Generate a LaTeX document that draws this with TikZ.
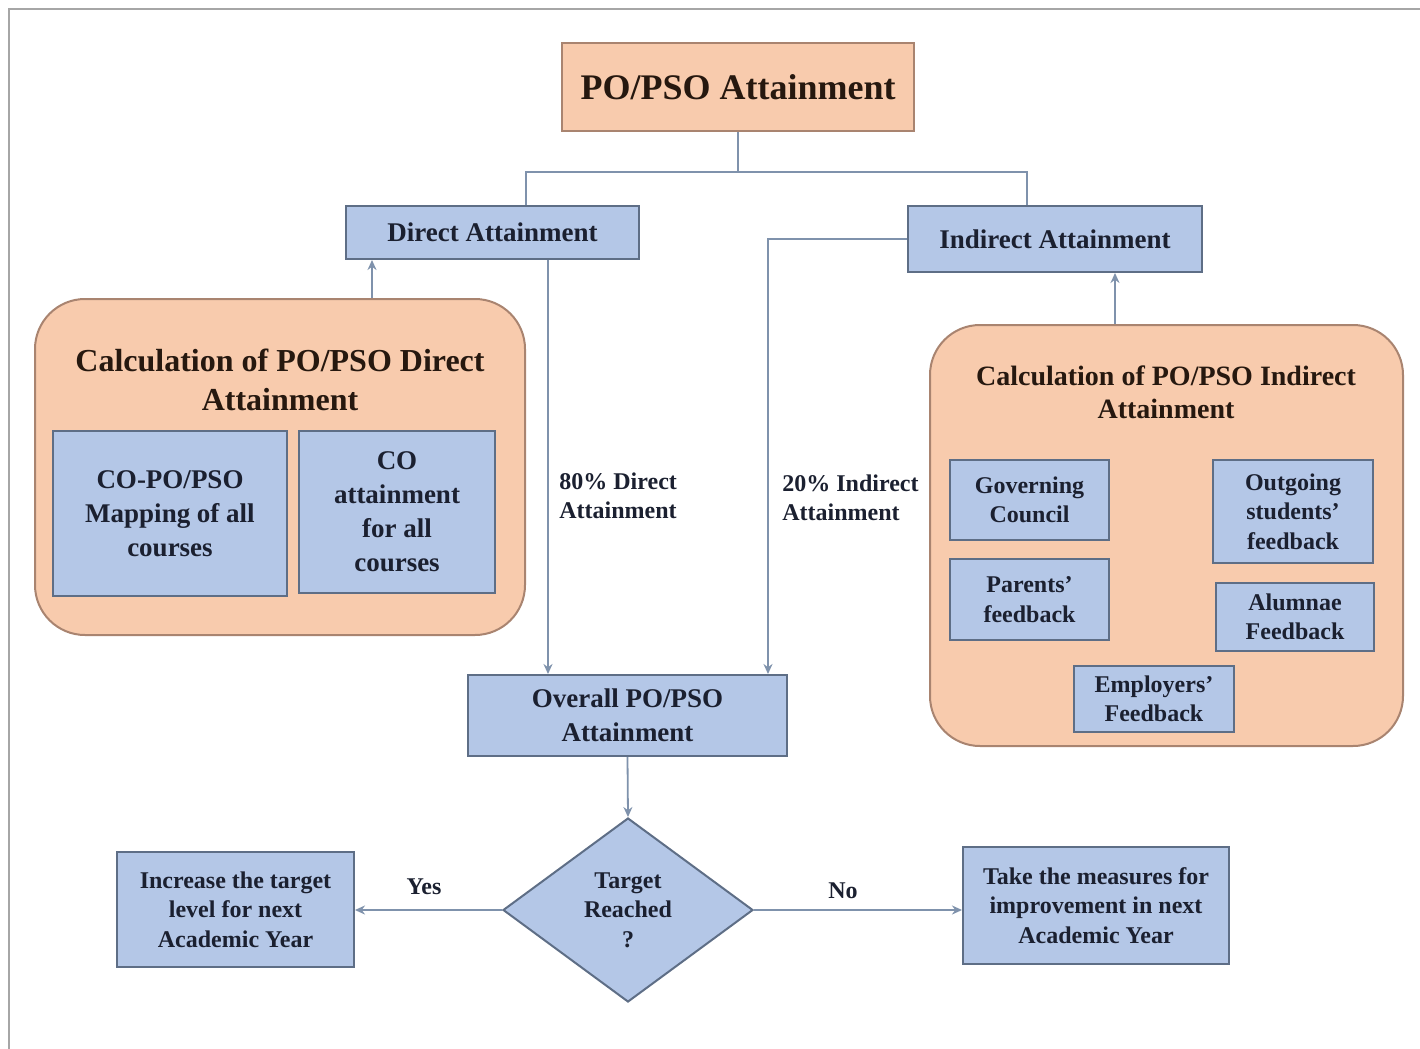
\documentclass[tikz,border=0pt]{standalone}
\usepackage{fontspec}
\setmainfont{Liberation Serif}
\usetikzlibrary{shapes.geometric,arrows.meta,calc}
\definecolor{peach}{HTML}{F8CBAD}
\definecolor{peachdraw}{HTML}{A98470}
\definecolor{bluefill}{HTML}{B4C7E7}
\definecolor{bluedraw}{HTML}{5E6E86}
\definecolor{conncol}{HTML}{7F92AC}
\definecolor{ink}{HTML}{1B2030}
\definecolor{inkb}{HTML}{26180F}
\tikzset{
  bluebox/.style={draw=bluedraw, fill=bluefill, line width=1pt, align=center, inner sep=0pt, text=ink, font=\bfseries},
  peachbox/.style={draw=peachdraw, fill=peach, line width=1pt, align=center, inner sep=0pt, text=inkb, font=\bfseries},
  calcbox/.style={peachbox, rounded corners=25pt},
  conn/.style={draw=conncol, line width=0.9pt},
  arr/.style={conn, -{Stealth[length=5pt, width=4.5pt]}},
  lbl/.style={text=ink, font=\bfseries, align=left, inner sep=0pt},
  fa/.style={font=\fontsize{18}{22}\selectfont\bfseries},
  fb/.style={font=\fontsize{13.5}{17}\selectfont\bfseries},
  fc/.style={font=\fontsize{12}{14.7}\selectfont\bfseries},
}
\begin{document}
\begin{tikzpicture}[x=0.5pt, y=-0.5pt]
\useasboundingbox (0,0) rectangle (1420,1049);
\fill[white] (0,0) rectangle (1420,1049);
\draw[black!35, line width=1.2pt] (9,1049) -- (9,9) -- (1420,9);

% top
\node[peachbox, fa, minimum width=176pt, minimum height=44pt] (top) at (738,87) {PO/PSO Attainment};
\node[bluebox, fb, minimum width=146.5pt, minimum height=26.5pt] (direct) at (492.5,232.5) {Direct Attainment};
\node[bluebox, fb, minimum width=147pt, minimum height=33pt] (indirect) at (1055,239) {Indirect Attainment};

% left calculation
\node[calcbox, minimum width=245pt, minimum height=168pt] (leftcalc) at (280,467) {};
\node[text=inkb, align=center, inner sep=0pt, font=\fontsize{16}{19.5}\selectfont\bfseries] (lefttitle) at (280,380) {Calculation of PO/PSO Direct\\Attainment};
\node[bluebox, fb, minimum width=117pt, minimum height=82.5pt] (copo) at (170,513.5) {CO-PO/PSO\\Mapping of all\\courses};
\node[bluebox, fb, minimum width=98pt, minimum height=81pt] (coatt) at (397,512) {CO\\attainment\\for all\\courses};

% right calculation
\node[calcbox, minimum width=236.5pt, minimum height=210.5pt] (rightcalc) at (1166.5,535.5) {};
\node[text=inkb, align=center, inner sep=0pt, font=\fontsize{14}{16.5}\selectfont\bfseries] (righttitle) at (1166,392) {Calculation of PO/PSO Indirect\\Attainment};
\node[bluebox, fc, minimum width=79.5pt, minimum height=40pt] (gov) at (1029.5,500) {Governing\\Council};
\node[bluebox, fc, minimum width=80pt, minimum height=51.5pt] (outgo) at (1293,511.5) {Outgoing\\students'\\feedback};
\node[bluebox, fc, minimum width=79.5pt, minimum height=40.5pt] (parents) at (1029.5,599.5) {Parents'\\feedback};
\node[bluebox, fc, minimum width=79pt, minimum height=34pt] (alum) at (1295,617) {Alumnae\\Feedback};
\node[bluebox, fc, minimum width=80pt, minimum height=33pt] (employ) at (1154,699) {Employers'\\Feedback};

% overall and decision
\node[bluebox, fb, minimum width=159.5pt, minimum height=40.5pt] (overall) at (627.5,715.5) {Overall PO/PSO\\Attainment};
\node[bluebox, fc, shape=diamond, shape aspect=1.36, minimum width=125pt, minimum height=92pt] (dia) at (628,910) {Target\\Reached\\?};
\node[bluebox, fc, minimum width=118.5pt, minimum height=57.5pt] (incr) at (235.5,909.5) {Increase the target\\level for next\\Academic Year};
\node[bluebox, fc, minimum width=133pt, minimum height=58.5pt] (take) at (1096,905.5) {Take the measures for\\improvement in next\\Academic Year};

% connectors
\coordinate (split) at ($(top.south)+(0,40)$);
\draw[conn] (top.south) -- (split);
\draw[conn] (526,0 |- direct.north) -- (526,0 |- split) -- (1027,0 |- split) -- (1027,0 |- indirect.north);
\draw[arr] (372,0 |- leftcalc.north) -- (372,0 |- direct.south);
\draw[arr] (1115,0 |- rightcalc.north) -- (1115,0 |- indirect.south);
\draw[arr] (548,0 |- direct.south) -- (548,0 |- overall.north);
\draw[arr] (indirect.west) -- (768,0 |- indirect.west) -- (768,0 |- overall.north);
\draw[arr] (overall.south) -- (dia.north);
\draw[arr] (dia.west) -- (dia.west -| incr.east);
\draw[arr] (dia.east) -- (dia.east -| take.west);

% labels
\node[lbl, fc, anchor=west] (l80) at (559,496) {80\% Direct\\Attainment};
\node[lbl, fc, anchor=west] (l20) at (782,498) {20\% Indirect\\Attainment};
\node[lbl, fc] (yes) at (424,887) {Yes};
\node[lbl, fc] (no) at (843,891) {No};
\end{tikzpicture}
\end{document}
